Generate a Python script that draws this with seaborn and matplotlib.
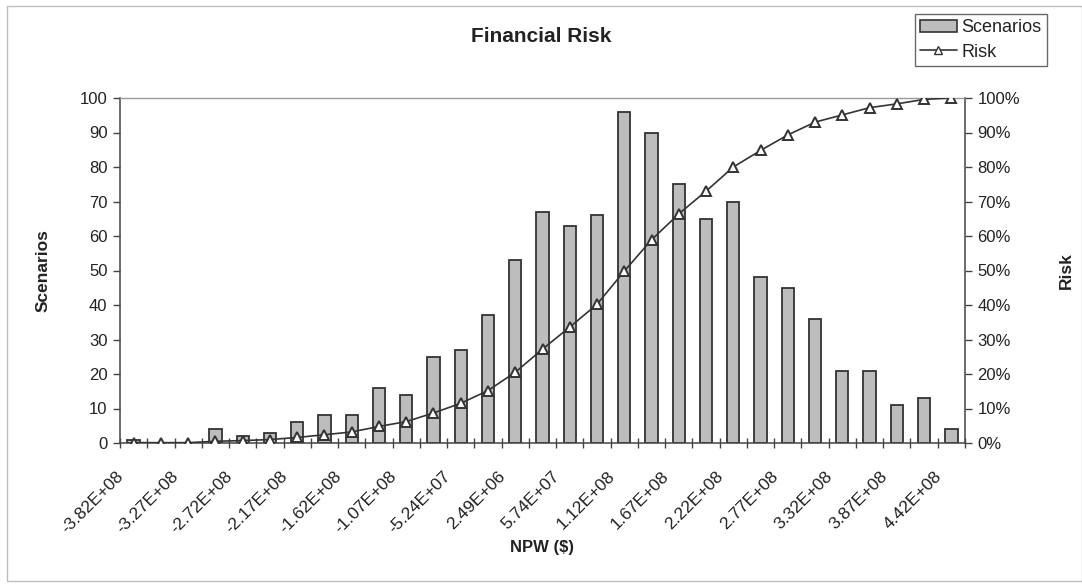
import numpy as np
import pandas as pd
import matplotlib
matplotlib.use("Agg")
import matplotlib.pyplot as plt
from matplotlib.ticker import FuncFormatter, FixedLocator
from matplotlib.patches import Rectangle
from matplotlib.lines import Line2D
import seaborn as sns

# NPW bin labels (every other bin carries a label)
tick_labels = ["-3.82E+08", "-3.27E+08", "-2.72E+08", "-2.17E+08", "-1.62E+08",
               "-1.07E+08", "-5.24E+07", "2.49E+06", "5.74E+07", "1.12E+08",
               "1.67E+08", "2.22E+08", "2.77E+08", "3.32E+08", "3.87E+08",
               "4.42E+08"]

# Scenario counts per NPW bin
scenarios = [1, 0, 0, 4, 2, 3, 6, 8, 8, 16, 14, 25, 27, 37, 53, 67, 63, 66,
             96, 90, 75, 65, 70, 48, 45, 36, 21, 21, 11, 13, 4]

# Cumulative risk (%) per NPW bin
risk = [0.1, 0.1, 0.1, 0.5, 0.7, 1.0, 1.6, 2.4, 3.2, 4.8, 6.2, 8.7, 11.5, 15.2,
        20.5, 27.2, 33.6, 40.2, 49.8, 58.9, 66.4, 73.0, 80.0, 84.8, 89.3, 93.0,
        95.1, 97.2, 98.3, 99.6, 100.0]

sns.set_theme(style="white")
plt.rcParams["font.family"] = ["Liberation Sans", "DejaVu Sans"]

n = len(scenarios)
df = pd.DataFrame({"bin": np.arange(n), "Scenarios": scenarios, "Risk": risk})

fig = plt.figure(figsize=(10.82, 5.85), dpi=100)
fig.patch.set_facecolor("white")
ax = fig.add_axes([120 / 1082, 1 - 443 / 585, 845 / 1082, 345 / 585])

bar_color = "#bdbdbd"
edge_color = "#333333"
line_color = "#333333"

sns.barplot(data=df, x="bin", y="Scenarios", ax=ax, color=bar_color,
            edgecolor=edge_color, linewidth=1.3, width=0.45, saturation=1,
            native_scale=False)

ax.set_xlim(-0.5, n - 0.5)
ax.set_ylim(0, 100)
ax.set_yticks(np.arange(0, 101, 10))
ax.tick_params(axis="y", labelsize=12, length=5, width=1, direction="out",
               left=True, color="#444444", pad=4, labelcolor="#222222")

# rotated labels on every second bin (anchored just left of the bin centre),
# tick marks on the bin boundaries
label_offset = 0.45
ax.xaxis.set_major_locator(FixedLocator(np.arange(0, n, 2) - label_offset))
ax.set_xticklabels(tick_labels, rotation=45, ha="right", va="center",
                   rotation_mode="anchor", fontsize=12.5, color="#222222")
ax.xaxis.set_minor_locator(FixedLocator(np.arange(-0.5, n, 1.0)))
ax.tick_params(axis="x", which="major", length=0, pad=22)
ax.tick_params(axis="x", which="minor", length=7, width=1, direction="inout",
               bottom=True, color="#444444")

ax.set_xlabel("NPW ($)", fontsize=12, fontweight="bold", labelpad=3,
              color="#222222")
ax.set_ylabel("Scenarios", fontsize=12.5, fontweight="bold", labelpad=21,
              color="#222222")

for side in ["left", "bottom", "right"]:
    ax.spines[side].set_color("#444444")
    ax.spines[side].set_linewidth(1.1)
ax.spines["top"].set_color("#9a9a9a")
ax.spines["top"].set_linestyle((0, (1, 1)))
ax.spines["top"].set_linewidth(1.0)

ax2 = ax.twinx()
sns.lineplot(x=df["bin"], y=df["Risk"], ax=ax2, color=line_color,
             linewidth=1.2, marker="^", markersize=7.5,
             markerfacecolor="white", markeredgecolor=line_color,
             markeredgewidth=1.4)
ax2.set_ylim(0, 100)
ax2.set_yticks(np.arange(0, 101, 10))
ax2.yaxis.set_major_formatter(FuncFormatter(lambda v, p: f"{v:.0f}%"))
ax2.tick_params(axis="y", labelsize=12, length=5, width=1, direction="out",
                right=True, color="#444444", pad=4, labelcolor="#222222")
ax2.set_ylabel("Risk", fontsize=12.5, fontweight="bold", labelpad=28,
               color="#222222")
ax2.set_xlim(-0.5, n - 0.5)
for s in ax2.spines.values():
    s.set_visible(False)

fig.text(541 / 1082, 1 - 36 / 585, "Financial Risk", ha="center",
         va="center", fontsize=15, fontweight="bold", color="#222222")

# legend
handles = [Rectangle((0, 0), 1, 1, facecolor=bar_color, edgecolor=edge_color,
                     linewidth=1.2),
           Line2D([0], [0], color=line_color, linewidth=1.2, marker="^",
                  markersize=6, markerfacecolor="white",
                  markeredgecolor=line_color)]
leg = fig.legend(handles, ["Scenarios", "Risk"], loc="upper left",
                 bbox_to_anchor=(915 / 1082, 1 - 14 / 585), fontsize=13,
                 frameon=True, fancybox=False, edgecolor="#444444",
                 borderpad=0.3, handlelength=2.0, handletextpad=0.25,
                 labelspacing=0.4, borderaxespad=0)
leg.get_frame().set_linewidth(1.0)
for t in leg.get_texts():
    t.set_color("#222222")

# outer chart frame
fig.add_artist(Rectangle((7 / 1082, 4 / 585), 1 - 7 / 1082, 1 - 10 / 585,
                         transform=fig.transFigure, fill=False,
                         edgecolor="#bdbdbd", linewidth=1.0))

fig.savefig("out.png", dpi=100, facecolor="white")
